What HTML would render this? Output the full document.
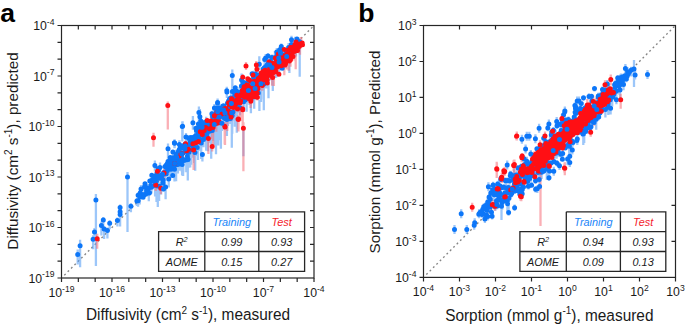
<!DOCTYPE html>
<html><head><meta charset="utf-8"><style>
html,body{margin:0;padding:0;background:#fff;width:685px;height:326px;overflow:hidden}
svg{display:block}
</style></head><body>
<svg width="685" height="326" viewBox="0 0 685 326" font-family='"Liberation Sans", sans-serif' fill="#1a1a1a"><rect width="685" height="326" fill="#fff"/><line x1="64.30" y1="275.20" x2="313.50" y2="26.00" stroke="#858585" stroke-width="1.35" stroke-dasharray="1.9 2.88"/><path d="M139.7 195.3V204.4M140.3 189.1V200.0M141.0 184.9V189.0M141.8 194.8V196.4M142.3 194.0V198.1M143.1 196.7V199.0M143.8 194.7V195.1M144.5 185.9V193.3M145.0 182.9V194.9M145.7 192.4V195.8M146.2 184.8V189.9M146.6 187.6V193.5M147.4 185.7V192.7M147.8 184.1V192.7M148.5 188.2V191.5M148.8 188.6V201.3M149.5 191.1V195.7M149.8 180.9V182.1M150.4 179.2V186.1M150.9 184.9V190.4M151.5 186.5V193.4M151.8 175.3V177.0M152.3 179.8V181.2M152.8 178.2V183.2M153.3 178.1V182.4M153.8 181.7V185.7M154.0 178.5V182.5M154.7 176.1V183.9M155.1 176.2V196.4M155.7 173.1V194.2M156.2 171.0V185.9M156.5 180.8V202.0M156.9 172.6V176.6M157.3 175.3V182.1M157.8 185.5V207.1M158.2 167.9V179.5M158.7 168.5V170.1M159.1 186.0V201.0M159.6 175.1V178.4M160.0 162.6V168.4M160.4 171.3V187.2M160.8 171.7V180.7M161.1 178.3V194.4M161.6 172.0V176.0M161.9 175.8V177.5M162.5 174.0V176.0M162.9 177.8V182.9M163.1 178.5V186.8M163.5 186.7V191.4M164.5 168.7V181.4M164.9 170.9V174.7M165.0 163.8V184.9M165.6 186.0V199.3M166.0 164.9V169.0M166.3 173.9V174.6M166.5 163.2V166.1M167.1 163.7V163.9M167.3 169.7V175.6M168.0 143.4V165.2M168.0 156.0V170.8M168.7 177.4V187.6M168.9 166.0V171.5M169.4 168.0V171.5M169.6 163.8V165.8M170.1 166.0V178.7M170.3 157.4V162.3M170.9 166.0V171.2M171.1 156.9V159.3M171.5 161.2V164.7M171.9 160.1V174.4M172.2 156.6V166.6M172.7 175.0V177.4M172.9 151.9V161.2M173.3 157.6V157.7M173.7 160.0V160.9M174.0 165.2V172.7M174.5 169.3V181.4M174.6 157.4V163.4M175.0 163.5V167.7M175.3 157.9V167.1M175.7 158.0V164.7M176.1 149.8V181.2M176.4 150.1V162.4M176.8 157.1V163.5M177.2 154.7V166.3M177.4 152.3V159.1M177.9 163.0V173.5M178.1 152.9V160.0M178.5 149.0V151.2M178.9 153.4V161.2M179.2 148.4V153.7M179.4 140.2V155.3M179.9 159.5V170.7M180.1 148.2V163.2M180.4 144.5V150.0M180.9 154.3V165.2M181.0 143.4V151.4M181.4 161.7V165.9M181.9 153.3V171.9M182.1 163.0V175.4M182.3 154.5V161.2M182.9 147.9V156.4M183.1 160.7V176.1M183.3 157.6V172.3M183.8 144.9V145.5M184.1 159.4V161.6M184.3 143.4V147.3M184.9 147.2V149.8M185.0 141.1V146.3M185.3 146.1V149.7M186.0 132.9V141.3M186.1 140.0V153.3M186.3 150.2V172.3M187.0 159.8V164.0M187.1 151.4V169.9M187.4 155.8V156.8M187.8 157.4V180.4M188.0 158.1V160.1M188.3 146.8V168.1M188.9 138.6V141.1M189.0 152.2V156.0M189.4 136.3V139.8M190.0 138.0V154.2M190.2 144.9V167.5M190.5 139.3V140.2M191.0 137.6V144.5M191.1 143.3V164.7M191.3 140.5V145.2M191.9 142.1V157.7M192.2 137.4V144.2M192.4 149.4V150.4M192.9 116.0V129.8M193.2 147.0V152.6M193.4 146.6V156.6M193.8 143.2V157.8M194.1 137.0V140.8M194.3 140.1V163.1M195.2 134.6V170.7M195.4 128.6V141.1M195.9 128.2V130.0M196.0 135.6V140.7M196.4 130.0V133.4M196.8 137.2V155.9M197.2 139.8V152.0M197.5 136.2V155.7M198.0 127.2V160.0M198.2 134.9V137.1M198.4 121.3V129.2M199.0 131.1V140.7M199.1 127.2V130.8M199.5 131.8V142.6M199.9 108.9V126.8M200.1 129.1V132.3M200.3 134.4V150.8M200.8 121.0V143.9M201.2 141.1V159.0M201.3 131.2V138.0M201.9 124.5V144.8M202.1 124.4V139.1M202.4 152.0V161.4M203.0 123.4V131.6M203.1 121.0V141.9M203.5 139.6V147.2M204.0 123.7V127.5M204.4 120.5V139.6M204.8 119.5V122.4M205.0 136.5V141.4M205.7 123.8V131.8M205.8 129.1V139.5M206.2 116.7V150.7M206.7 131.9V149.3M207.0 126.7V131.0M207.1 125.3V142.7M207.5 121.4V127.3M207.9 126.3V151.2M208.2 119.8V141.2M208.7 123.0V127.1M208.8 121.2V137.6M209.1 125.5V134.4M209.5 131.0V142.7M210.0 122.1V126.0M210.1 123.7V129.1M210.7 126.8V128.8M210.8 128.7V131.5M211.2 126.3V158.8M211.6 122.9V131.9M211.9 110.8V121.5M212.3 130.2V132.4M212.6 113.5V119.8M212.9 113.4V123.1M213.4 117.6V123.1M213.6 119.8V140.9M213.8 110.0V139.5M214.3 124.1V127.8M214.7 111.2V145.3M215.0 107.8V130.9M215.4 106.3V123.7M215.5 117.6V118.8M216.0 117.5V154.3M216.5 110.4V114.3M216.6 107.4V132.9M217.1 114.5V123.1M217.4 111.9V119.1M217.7 107.4V113.7M218.2 108.9V145.6M218.3 121.4V123.2M218.8 112.1V127.5M219.1 102.9V113.8M219.4 109.1V118.7M219.8 115.6V127.4M220.2 115.1V115.8M220.5 111.8V140.2M220.9 113.7V148.7M221.2 104.6V110.5M221.7 104.5V113.6M221.9 118.6V131.0M222.1 108.2V113.6M222.6 107.5V107.7M223.0 104.8V115.1M223.5 107.7V115.5M223.5 103.9V122.8M223.8 110.4V129.6M224.3 116.9V121.4M224.6 111.9V120.5M225.0 105.1V121.2M225.3 107.0V126.9M225.6 115.2V126.5M226.0 105.3V109.7M226.3 114.7V120.0M226.9 116.9V136.0M227.1 109.4V115.6M227.5 102.9V104.0M228.0 117.8V126.0M228.0 114.4V116.3M228.5 99.7V102.2M228.8 103.4V117.4M229.4 99.4V118.7M229.7 106.2V108.0M229.9 98.3V115.8M230.4 114.0V124.0M230.6 98.1V100.2M231.1 91.9V99.9M231.4 95.5V121.5M231.8 112.6V147.8M232.2 107.4V133.8M232.4 83.4V115.5M232.9 108.4V113.6M233.1 105.8V120.7M233.6 97.6V106.2M233.8 100.9V105.5M234.4 97.3V110.9M234.7 93.4V97.3M235.1 103.4V104.5M235.3 87.7V97.1M235.5 95.6V102.7M236.2 90.7V118.6M236.3 95.4V99.8M236.8 96.3V132.7M237.2 104.9V106.4M237.7 97.6V106.9M237.9 103.5V112.4M238.4 102.5V103.8M238.5 91.7V94.4M239.0 103.0V105.5M239.5 87.0V98.0M239.9 101.0V115.3M240.1 93.9V101.6M240.7 95.4V96.8M240.9 99.2V100.4M241.4 81.1V86.8M241.6 73.5V80.0M242.2 83.4V94.5M242.5 87.8V101.6M242.9 80.7V91.2M243.0 80.4V94.2M243.7 99.9V112.1M243.8 87.6V101.2M244.3 91.8V100.3M244.5 84.3V93.7M245.2 92.0V102.0M245.4 85.1V92.0M245.9 83.1V85.3M246.2 85.0V91.6M246.6 90.7V111.8M246.8 91.8V104.5M247.3 83.3V87.1M247.7 93.5V98.1M248.0 84.6V101.1M248.4 90.6V95.3M248.8 93.4V94.0M249.5 91.7V104.9M249.7 86.0V87.7M250.1 85.4V89.7M250.3 86.3V93.6M250.9 98.1V113.3M251.1 85.5V93.4M251.7 97.4V101.8M252.1 73.2V87.4M252.3 88.4V90.9M252.8 83.6V85.9M253.1 82.3V99.9M253.7 70.7V102.0M254.2 86.7V108.7M254.4 93.5V99.7M254.8 74.7V76.7M255.1 86.2V90.1M255.5 72.9V75.9M256.2 70.1V78.1M256.5 86.3V94.3M257.0 71.2V99.7M257.5 71.4V79.5M257.5 77.1V80.9M258.1 70.8V83.5M258.3 92.9V94.3M258.8 82.7V85.3M259.3 56.2V69.8M259.7 73.8V80.8M260.1 80.1V82.5M260.6 76.6V89.7M261.0 82.0V101.9M261.4 80.3V84.1M261.9 74.0V78.0M262.1 72.2V75.6M262.7 78.6V81.4M263.2 69.1V71.1M263.6 67.9V99.5M263.8 83.9V110.3M264.3 64.3V79.0M264.8 77.4V87.8M265.5 59.0V80.1M265.6 75.8V84.4M266.2 77.7V88.5M266.6 65.1V66.4M267.2 68.9V74.2M267.4 64.0V82.6M268.0 53.2V58.6M268.5 58.9V98.2M269.0 72.1V74.1M269.2 70.3V77.4M269.6 57.1V80.6M270.1 66.8V66.8M270.5 57.7V78.4M271.1 72.3V73.6M271.6 55.6V65.4M272.0 65.4V67.4M272.4 63.2V85.2M272.8 72.0V91.0M273.4 64.4V66.9M273.9 62.2V68.5M274.5 63.0V63.6M274.9 50.9V63.6M275.5 64.4V68.9M275.6 61.8V78.0M276.1 57.8V64.5M276.6 56.8V77.2M277.2 53.1V60.8M277.6 55.4V61.2M278.1 49.6V61.5M278.7 56.2V68.8M279.1 61.1V74.1M279.7 47.7V49.7M280.2 50.9V61.4M280.6 51.9V69.8M281.0 50.5V55.8M281.7 56.8V69.2M282.2 67.6V68.2M282.5 54.9V63.7M283.3 54.1V60.4M283.8 57.6V65.4M284.5 59.1V61.2M285.0 57.3V65.1M285.7 53.5V65.4M286.0 50.1V67.7M286.7 51.4V56.4M287.4 50.8V59.9M287.8 49.0V52.9M288.6 43.1V57.1M289.4 57.5V72.9M289.9 52.8V63.6M290.7 48.2V58.0M291.4 37.1V54.7M292.1 47.6V49.2M292.8 40.5V54.8M293.7 42.5V58.4M294.4 48.8V55.3M295.2 36.8V45.8M296.0 45.8V56.4M297.0 37.6V47.6M298.1 43.5V47.0M299.7 41.8V76.8M77.7 249.5V264.5M80.1 239.7V267.2M95.9 193.9V265.9M94.5 227.9V239.9M93.1 235.3V249.3M103.3 217.0V228.0M101.4 221.5V235.5M104.1 226.1V239.1M107.4 227.5V238.5M109.7 220.3V229.3M117.4 217.6V226.6M120.1 204.6V211.6M120.1 208.7V217.7M120.1 211.5V226.5M127.5 172.0V232.0M130.9 203.2V212.2M138.1 192.2V200.2M138.1 197.7V206.7M136.9 198.1V206.1M154.9 160.4V171.4M174.6 139.3V148.3M182.6 121.2V138.2M198.9 106.6V129.6M182.3 121.5V141.5M174.4 139.7V147.7M217.6 98.5V110.5M214.4 103.9V113.9M226.8 86.7V96.7M232.3 69.5V96.5M226.9 89.0V98.0M217.5 100.0V108.0M243.4 128.2V156.2M259.4 100.0V111.0M234.8 114.7V126.7M265.7 54.0V64.0M276.8 48.0V58.0M291.5 35.7V47.7M281.3 43.6V51.6M272.0 54.6V62.6M264.7 56.5V64.5" stroke="#5aa0f5" stroke-opacity="0.6" stroke-width="2.3" fill="none"/><path d="M192.9 141.4V143.7M195.9 139.4V142.7M198.5 140.1V141.8M200.3 126.3V136.8M202.3 133.6V138.9M207.2 120.5V128.9M208.4 136.7V154.1M210.9 114.8V121.1M212.1 124.8V139.1M213.1 127.5V146.4M214.4 115.8V118.1M215.3 114.1V120.9M216.3 123.6V131.8M217.0 112.2V113.7M218.2 123.1V124.5M219.0 118.2V124.1M219.8 115.9V123.7M220.5 110.2V115.6M221.4 114.2V114.4M223.0 109.6V113.2M224.7 108.8V109.4M225.1 112.5V117.8M225.8 108.4V114.0M226.6 108.2V110.6M227.3 111.1V131.1M228.0 111.1V114.6M229.1 102.5V104.6M229.9 113.4V115.2M230.3 110.6V118.4M231.1 117.0V121.3M231.6 97.3V99.9M232.0 100.6V107.0M232.6 100.4V100.5M233.8 105.0V107.8M234.4 100.0V115.3M234.8 103.4V113.1M235.3 99.4V104.2M236.0 103.5V110.0M236.4 98.8V100.3M236.8 93.6V95.2M237.5 108.4V110.8M238.4 93.4V103.7M238.8 91.5V97.1M239.4 98.7V101.4M239.6 101.1V119.4M240.2 102.8V116.3M240.6 100.9V120.9M241.2 94.3V107.2M241.5 93.7V102.8M242.0 94.6V102.9M243.4 89.9V91.4M243.7 82.2V89.2M244.5 93.9V98.6M245.0 83.4V87.5M245.4 89.8V89.9M246.2 84.2V85.1M246.5 92.8V101.2M247.3 94.5V97.8M247.8 76.9V82.3M248.2 83.4V90.6M248.7 95.8V98.4M249.2 89.5V100.1M249.8 85.8V89.2M250.2 94.7V96.3M250.6 93.0V107.9M251.0 81.4V82.1M251.3 87.5V93.0M251.7 88.4V98.8M253.2 84.3V87.3M253.5 92.6V96.4M254.0 90.3V93.0M254.6 81.3V83.3M255.2 82.4V83.4M255.3 85.0V88.9M255.6 84.3V89.4M256.2 86.0V95.1M256.3 79.7V93.2M256.9 67.6V69.2M257.1 93.2V98.5M257.4 97.3V100.5M257.9 80.2V80.5M258.0 88.7V90.9M258.4 78.2V79.6M259.0 79.0V82.9M259.6 83.6V84.1M260.0 81.7V84.6M260.0 77.0V77.6M260.6 77.2V79.6M261.0 77.9V78.6M261.2 73.1V76.0M261.6 69.8V73.8M261.9 79.7V80.5M262.3 85.0V90.8M262.9 71.7V72.0M263.4 77.6V81.3M264.3 79.3V82.5M264.9 74.6V81.9M265.1 70.2V72.6M265.4 70.6V79.4M265.7 78.6V82.2M266.1 69.3V74.7M266.4 74.4V74.9M267.2 79.5V80.1M267.3 82.1V84.8M267.7 72.4V84.6M267.8 68.5V71.2M268.6 74.7V75.5M269.0 58.9V61.9M269.1 69.5V76.6M269.5 65.9V69.4M270.0 66.3V71.4M270.2 67.2V74.2M270.3 69.2V73.9M270.9 62.5V65.6M271.1 74.9V79.9M271.5 67.8V68.7M272.1 68.4V85.8M272.3 63.3V72.5M273.0 72.7V75.2M273.5 61.8V64.6M273.7 66.5V72.1M273.9 65.9V86.1M274.2 65.4V67.1M274.4 63.6V78.0M274.8 64.8V68.4M275.1 62.8V69.8M275.4 56.5V60.7M275.7 69.7V75.0M276.2 65.1V70.0M276.7 60.4V63.8M277.2 59.2V63.7M277.6 60.5V70.9M277.8 66.8V71.4M278.7 60.5V62.8M278.9 71.9V74.3M279.4 55.9V60.8M279.7 52.6V59.6M279.9 58.5V61.6M280.4 51.1V69.8M280.8 51.3V56.2M281.1 50.5V57.3M281.3 65.8V68.2M282.0 54.4V58.9M282.5 52.5V57.7M282.8 54.0V58.2M283.1 56.7V61.0M283.3 56.0V58.8M284.2 49.1V49.6M284.3 63.8V75.2M284.5 61.6V66.7M284.9 60.9V65.0M285.4 64.2V65.2M285.6 59.4V63.6M286.0 58.7V65.3M286.1 53.2V58.6M286.9 57.3V58.1M287.0 54.1V69.4M287.5 53.5V60.5M287.8 53.7V59.8M288.2 55.5V58.9M288.4 49.1V55.9M288.7 59.5V70.7M289.0 56.5V58.6M289.4 57.1V63.3M289.5 56.7V64.6M290.0 49.3V50.5M290.5 59.8V66.7M290.6 46.8V61.7M291.0 49.9V52.2M291.6 46.4V48.6M291.8 46.4V54.7M292.1 53.9V54.3M292.7 51.7V55.3M292.8 46.3V49.2M293.0 55.6V58.4M293.6 49.6V60.4M294.2 47.4V56.6M294.6 46.8V46.8M295.0 47.5V47.8M295.1 43.9V44.6M295.7 49.3V69.3M296.0 41.8V42.0M296.0 44.6V47.9M296.6 42.3V50.2M297.5 50.4V52.2M297.6 45.6V45.7M298.1 47.4V49.7M298.9 39.4V53.2M299.5 45.4V47.9M299.6 45.0V51.4M300.0 44.1V54.8M300.7 37.3V44.3M301.2 37.1V44.1M301.7 42.6V43.2M302.5 42.6V44.8M97.2 233.8V248.8M153.5 132.8V146.8M157.5 167.3V177.3M164.1 169.1V179.1M155.8 182.1V191.1M160.8 185.2V194.2M174.6 160.6V168.6M179.2 152.7V160.7M182.0 150.8V157.8M185.6 140.7V147.7M188.4 146.2V153.2M167.8 101.4V129.4M193.6 142.0V170.0M212.2 143.6V151.6M224.7 122.2V144.2M238.0 115.3V129.3M243.4 122.2V171.2M242.7 105.8V126.8M238.5 116.1V129.1M225.0 124.0V145.0M250.8 98.2V105.2M242.7 106.0V114.0M238.4 115.5V131.5M250.9 97.5V105.5M256.3 60.9V68.9M246.0 62.1V70.1M242.8 74.2V81.2" stroke="#f56e78" stroke-opacity="0.55" stroke-width="2.3" fill="none"/><path d="M139.7 196.5h0M140.3 192.7h0M141.0 189.0h0M141.8 196.4h0M142.3 194.6h0M143.1 197.3h0M144.5 186.8h0M145.0 183.7h0M145.7 194.3h0M146.2 187.4h0M147.4 190.0h0M147.8 188.5h0M148.5 188.2h0M148.8 193.0h0M149.8 180.9h0M150.4 180.9h0M150.9 185.5h0M151.5 187.2h0M151.8 175.3h0M152.3 180.2h0M152.8 179.6h0M153.3 178.4h0M153.8 185.6h0M154.7 177.8h0M155.1 176.3h0M155.7 177.7h0M156.2 175.8h0M156.5 181.2h0M156.9 173.2h0M157.3 177.9h0M157.8 186.0h0M158.2 168.5h0M158.7 170.1h0M159.1 186.2h0M159.6 176.3h0M160.0 167.5h0M160.4 176.2h0M160.8 175.5h0M161.1 178.3h0M161.6 175.9h0M161.9 175.8h0M162.9 182.9h0M163.1 180.1h0M163.8 172.5h0M164.5 173.8h0M164.9 172.9h0M165.0 166.5h0M165.6 187.0h0M166.0 167.2h0M166.3 174.1h0M166.5 165.0h0M167.3 170.7h0M168.0 161.4h0M168.7 179.0h0M169.4 168.0h0M169.6 165.3h0M170.1 166.3h0M171.1 159.3h0M171.5 164.1h0M171.9 165.9h0M172.2 160.1h0M172.7 175.6h0M172.9 152.0h0M173.3 157.7h0M173.7 160.9h0M174.0 168.4h0M174.5 169.3h0M175.0 165.1h0M175.3 159.7h0M175.7 158.7h0M176.4 156.0h0M177.2 160.9h0M177.4 154.6h0M177.9 164.6h0M178.1 152.9h0M178.5 151.2h0M178.9 159.7h0M179.2 149.8h0M179.4 144.4h0M179.9 162.8h0M180.4 147.5h0M180.9 160.1h0M181.0 147.9h0M181.4 161.7h0M182.1 164.5h0M182.3 158.6h0M182.9 153.1h0M183.1 160.7h0M183.3 159.5h0M183.8 145.5h0M184.1 160.4h0M184.3 145.0h0M185.0 144.2h0M186.0 136.9h0M186.1 145.9h0M186.3 151.6h0M187.0 159.8h0M187.1 151.4h0M187.4 156.3h0M187.8 159.6h0M188.3 151.7h0M188.9 138.6h0M189.0 152.2h0M189.4 137.8h0M190.0 141.9h0M190.2 144.9h0M190.5 139.3h0M191.0 137.6h0M191.1 145.2h0M191.3 140.8h0M191.9 142.6h0M192.2 140.4h0M192.4 149.4h0M192.9 122.7h0M193.2 148.3h0M193.4 146.8h0M193.8 144.8h0M194.1 137.0h0M194.3 140.1h0M195.0 152.4h0M195.2 137.4h0M195.9 128.2h0M196.0 135.6h0M196.4 130.4h0M196.8 137.5h0M197.2 147.5h0M197.5 136.2h0M198.0 131.6h0M198.2 134.9h0M198.4 124.1h0M199.0 138.6h0M199.1 127.2h0M199.5 135.2h0M199.9 116.8h0M200.1 132.3h0M200.3 142.4h0M200.8 121.0h0M201.2 143.1h0M201.3 133.6h0M201.9 125.3h0M202.4 154.6h0M203.0 131.4h0M203.1 129.0h0M203.5 139.6h0M203.8 136.2h0M204.0 124.2h0M204.4 128.3h0M204.8 122.4h0M205.0 136.5h0M205.7 131.8h0M205.8 137.1h0M206.2 124.7h0M206.7 135.0h0M207.0 128.8h0M207.1 133.3h0M207.5 122.7h0M207.9 130.0h0M208.2 124.5h0M208.7 125.8h0M208.8 126.1h0M209.1 128.9h0M209.5 131.3h0M210.0 125.7h0M210.1 128.3h0M210.7 128.3h0M210.8 128.7h0M211.2 129.2h0M211.6 126.7h0M211.9 113.8h0M212.3 130.5h0M212.6 116.6h0M212.9 115.2h0M213.4 122.8h0M213.6 119.8h0M213.8 117.6h0M214.7 114.9h0M215.0 115.8h0M215.4 114.3h0M215.5 117.6h0M216.0 119.3h0M216.5 111.6h0M217.1 122.5h0M217.4 113.3h0M218.2 110.6h0M218.3 122.1h0M218.8 112.1h0M219.1 108.0h0M219.8 116.4h0M220.2 115.8h0M220.5 115.8h0M220.9 113.7h0M221.2 110.5h0M221.7 108.0h0M222.1 108.7h0M222.6 107.5h0M223.0 106.1h0M223.5 105.8h0M223.8 116.5h0M224.6 112.8h0M225.3 113.1h0M225.6 118.8h0M226.0 109.7h0M226.3 115.7h0M226.9 119.4h0M227.1 115.0h0M227.5 102.9h0M228.0 119.0h0M228.0 116.3h0M228.5 100.9h0M228.8 107.2h0M229.4 99.4h0M229.7 106.6h0M229.9 98.5h0M230.4 118.5h0M230.6 98.1h0M231.1 99.9h0M232.2 115.4h0M232.4 91.4h0M232.9 112.0h0M233.1 105.8h0M233.6 97.6h0M233.8 100.9h0M234.4 100.8h0M234.7 93.4h0M235.1 103.4h0M235.3 87.7h0M235.5 99.6h0M236.2 91.0h0M236.3 96.7h0M236.8 97.7h0M237.2 106.4h0M237.7 103.1h0M237.9 103.5h0M238.4 102.5h0M238.5 92.2h0M239.0 103.0h0M239.5 95.0h0M239.9 107.8h0M240.1 96.6h0M240.7 96.8h0M240.9 99.3h0M241.4 86.0h0M241.6 80.0h0M242.2 86.0h0M242.5 90.3h0M243.0 88.4h0M243.7 101.8h0M243.8 87.6h0M244.3 98.0h0M244.5 92.3h0M245.2 100.0h0M245.4 88.5h0M245.9 83.1h0M246.2 88.9h0M246.6 90.7h0M246.8 93.3h0M247.3 83.3h0M247.7 94.9h0M248.0 87.3h0M248.8 94.0h0M249.5 91.7h0M249.7 87.6h0M250.1 86.8h0M250.3 89.5h0M250.9 98.9h0M251.1 91.8h0M251.7 97.5h0M252.1 73.7h0M252.3 88.4h0M253.1 90.3h0M253.7 77.8h0M254.2 87.0h0M254.4 95.4h0M254.8 74.8h0M255.5 74.0h0M256.2 78.1h0M256.5 86.6h0M257.0 79.2h0M257.5 75.3h0M257.5 80.9h0M258.1 78.3h0M258.3 92.9h0M258.8 82.7h0M259.3 64.2h0M259.7 76.4h0M260.1 80.7h0M260.6 78.4h0M261.4 80.3h0M261.9 77.3h0M262.1 75.6h0M262.7 80.7h0M263.2 69.1h0M263.6 69.4h0M263.8 84.1h0M264.3 67.7h0M264.8 79.5h0M265.5 67.0h0M265.6 75.9h0M266.2 80.5h0M266.6 65.8h0M267.2 73.2h0M268.0 55.9h0M268.5 63.2h0M269.0 72.1h0M269.2 71.8h0M270.1 66.8h0M270.5 61.6h0M271.1 72.5h0M271.6 63.3h0M272.4 69.2h0M272.8 72.0h0M273.4 66.9h0M273.9 62.9h0M274.5 63.6h0M274.9 57.5h0M275.5 65.0h0M275.6 64.5h0M276.1 58.6h0M276.6 59.8h0M277.2 54.6h0M277.6 58.5h0M278.1 57.6h0M279.7 49.7h0M281.0 55.8h0M281.7 59.0h0M282.2 68.2h0M282.5 54.9h0M283.3 58.9h0M283.8 58.7h0M284.5 59.7h0M285.0 57.6h0M285.7 53.5h0M286.0 51.0h0M287.4 55.2h0M287.8 52.2h0M288.6 47.5h0M289.4 57.5h0M289.9 52.8h0M290.7 50.6h0M291.4 44.5h0M292.1 48.9h0M292.8 48.5h0M293.7 50.5h0M294.4 48.8h0M295.2 44.8h0M296.0 45.8h0M297.0 39.0h0M298.1 43.7h0M299.7 41.8h0M77.7 254.5h0M80.1 245.7h0M95.9 199.9h0M93.1 239.3h0M101.4 225.5h0M104.1 229.1h0M107.4 230.5h0M109.7 223.3h0M117.4 220.6h0M120.1 207.6h0M120.1 211.7h0M127.5 177.0h0M138.1 195.2h0M138.1 200.7h0M136.9 201.1h0M154.9 165.4h0M182.6 126.2h0M198.9 112.6h0M182.3 126.5h0M174.4 142.7h0M217.6 102.5h0M214.4 107.9h0M226.8 90.7h0M232.3 75.5h0M226.9 92.0h0M217.5 103.0h0M265.7 58.0h0M276.8 52.0h0M291.5 39.7h0M281.3 46.6h0M272.0 57.6h0M264.7 59.5h0" stroke="#0c76f8" stroke-width="5.0" stroke-linecap="round" fill="none"/><path d="M186.7 150.8h0M192.9 143.7h0M195.9 142.7h0M198.5 141.5h0M200.3 131.8h0M202.3 134.6h0M204.2 130.4h0M205.7 127.6h0M207.2 120.5h0M208.4 138.6h0M209.6 128.7h0M210.9 121.1h0M212.1 124.8h0M213.1 127.5h0M214.4 115.8h0M215.3 120.9h0M216.3 123.6h0M217.0 112.2h0M218.2 123.1h0M219.0 121.4h0M219.8 115.9h0M220.5 114.4h0M221.4 114.2h0M222.3 115.5h0M223.0 113.2h0M224.0 114.0h0M224.7 108.8h0M225.1 112.5h0M225.8 108.4h0M226.6 110.2h0M227.3 111.1h0M228.0 111.1h0M228.6 102.8h0M229.1 104.4h0M229.9 113.6h0M230.3 112.2h0M231.1 117.0h0M231.6 98.7h0M232.0 107.0h0M232.6 100.4h0M233.4 107.6h0M233.8 106.4h0M234.4 106.9h0M234.8 104.7h0M235.3 104.2h0M236.0 103.5h0M236.4 100.3h0M236.8 95.2h0M237.5 109.0h0M237.9 96.1h0M238.4 100.4h0M238.8 97.1h0M239.4 101.4h0M239.6 101.4h0M240.2 102.8h0M240.6 100.9h0M241.2 94.4h0M241.5 95.4h0M242.0 94.6h0M242.4 90.4h0M242.8 91.8h0M243.4 91.4h0M243.7 89.2h0M244.2 86.8h0M244.5 97.3h0M245.0 85.7h0M245.4 89.8h0M245.9 93.4h0M246.2 85.0h0M246.5 92.8h0M247.2 85.3h0M247.3 95.7h0M247.8 78.8h0M248.2 86.0h0M248.7 98.4h0M249.2 94.1h0M249.3 80.0h0M249.8 87.3h0M250.2 95.8h0M250.6 94.4h0M251.0 81.4h0M251.3 90.4h0M251.7 88.4h0M252.1 96.2h0M252.4 82.4h0M253.0 75.0h0M253.2 84.3h0M253.5 92.6h0M254.0 90.4h0M254.5 96.7h0M254.6 81.3h0M255.2 83.4h0M255.3 86.4h0M255.6 86.6h0M256.2 86.0h0M256.3 84.4h0M256.9 69.2h0M257.1 93.2h0M257.4 97.3h0M257.9 80.5h0M258.0 88.7h0M258.4 78.5h0M258.8 80.0h0M259.0 79.0h0M259.6 84.1h0M260.0 84.6h0M260.0 77.3h0M260.6 79.6h0M261.0 77.9h0M261.2 73.1h0M261.6 73.8h0M261.9 80.5h0M262.2 79.0h0M262.3 85.6h0M262.9 71.7h0M263.2 71.4h0M263.4 80.1h0M264.0 77.2h0M264.1 75.4h0M264.3 79.3h0M264.9 74.6h0M265.1 70.2h0M265.4 70.6h0M265.7 78.6h0M266.1 70.9h0M266.4 74.9h0M266.7 75.1h0M267.2 80.1h0M267.3 83.0h0M267.7 73.8h0M267.8 70.8h0M268.4 71.2h0M268.6 75.5h0M269.0 61.9h0M269.1 70.1h0M269.5 65.9h0M270.0 66.9h0M270.2 74.2h0M270.3 69.5h0M270.9 65.6h0M271.1 75.3h0M271.4 70.6h0M271.5 67.8h0M272.1 68.4h0M272.3 63.3h0M272.6 77.5h0M273.0 72.7h0M273.5 64.6h0M273.7 68.9h0M273.9 66.1h0M274.2 65.4h0M274.4 63.6h0M274.8 65.3h0M275.1 65.4h0M275.4 57.9h0M275.7 71.6h0M276.2 67.4h0M276.3 59.2h0M276.7 61.9h0M276.8 63.4h0M277.2 63.7h0M277.6 63.4h0M277.8 66.8h0M278.1 59.7h0M278.4 54.0h0M278.7 62.8h0M278.9 74.3h0M279.4 59.9h0M279.7 59.6h0M279.9 58.5h0M280.2 63.8h0M280.4 52.6h0M280.8 55.7h0M281.1 56.7h0M281.3 65.8h0M281.6 61.5h0M282.0 56.8h0M282.5 55.7h0M282.6 57.0h0M282.8 58.2h0M283.1 56.7h0M283.3 57.6h0M283.8 55.9h0M284.2 49.6h0M284.3 64.4h0M284.5 61.6h0M284.9 65.0h0M285.4 64.2h0M285.6 63.5h0M286.0 60.0h0M286.1 57.0h0M286.7 57.3h0M286.9 57.3h0M287.0 54.1h0M287.5 60.5h0M287.8 53.7h0M288.2 58.9h0M288.4 50.0h0M288.7 59.5h0M289.0 58.6h0M289.4 60.9h0M289.5 58.1h0M290.0 49.3h0M290.5 59.8h0M290.6 47.6h0M290.8 55.5h0M291.0 49.9h0M291.6 47.9h0M291.8 49.9h0M292.1 54.3h0M292.7 52.0h0M292.8 49.2h0M293.0 56.5h0M293.6 50.3h0M293.8 46.8h0M294.2 51.5h0M294.6 46.8h0M295.0 47.8h0M295.1 44.6h0M295.7 49.3h0M296.0 42.0h0M296.0 47.9h0M296.6 48.0h0M297.0 46.7h0M297.5 50.4h0M297.6 45.7h0M298.1 47.4h0M298.3 46.1h0M298.9 46.4h0M299.5 46.3h0M299.6 45.0h0M300.0 44.1h0M300.7 44.3h0M301.2 44.1h0M301.7 43.2h0M302.2 43.1h0M302.5 44.8h0M97.2 238.8h0M153.5 137.8h0M157.5 171.3h0M164.1 173.1h0M155.8 185.1h0M160.8 188.2h0M174.6 163.6h0M179.2 155.7h0M182.0 153.8h0M185.6 143.7h0M188.4 149.2h0M167.8 105.4h0M193.6 150.0h0M212.2 146.6h0M224.7 126.2h0M238.0 119.3h0M243.4 128.2h0M242.7 109.8h0M238.5 119.1h0M225.0 127.0h0M250.8 101.2h0M242.7 109.0h0M238.4 119.5h0M250.9 100.5h0M256.3 64.9h0M246.0 66.1h0M242.8 77.2h0" stroke="#ff0f14" stroke-width="5.0" stroke-linecap="round" fill="none"/><path d="M143.8 195.1h0M146.6 190.8h0M149.5 192.7h0M154.0 181.1h0M162.5 174.3h0M163.5 189.0h0M167.1 163.9h0M168.0 148.8h0M168.9 166.0h0M170.3 157.4h0M170.9 169.3h0M174.6 163.4h0M176.1 154.6h0M176.8 157.5h0M180.1 148.2h0M181.9 154.1h0M184.9 148.9h0M185.3 146.1h0M188.0 159.2h0M195.4 136.2h0M202.1 127.3h0M214.3 124.6h0M216.6 108.1h0M217.7 111.8h0M219.4 117.1h0M221.9 123.3h0M223.5 110.1h0M224.3 118.1h0M225.0 113.1h0M231.4 103.5h0M231.8 112.8h0M242.9 81.9h0M248.4 90.6h0M252.8 83.7h0M255.1 88.6h0M261.0 83.7h0M267.4 64.7h0M269.6 65.1h0M272.0 67.4h0M278.7 58.0h0M279.1 62.1h0M280.2 51.9h0M280.6 53.3h0M286.7 56.4h0M94.5 231.9h0M103.3 220.0h0M120.1 214.5h0M130.9 206.2h0M174.6 143.3h0" stroke="#0c76f8" stroke-width="5.0" stroke-linecap="round" fill="none"/><rect x="204.8" y="211.8" width="99.80000000000001" height="19.80000000000001" fill="#fff"/><rect x="158.6" y="231.60000000000002" width="146.00000000000003" height="39.69999999999999" fill="#fff"/><path d="M204.8 211.8H304.6V271.3H158.6V231.60000000000002H304.6M158.6 251.5H304.6M204.8 211.8V271.3M258.8 211.8V271.3" fill="none" stroke="#262626" stroke-width="1.3"/><text transform="translate(231.8 225.8) scale(1 1.04)" text-anchor="middle" font-size="10.9" font-style="italic" fill="#2085f8">Training</text><text transform="translate(281.7 225.8) scale(1 1.04)" text-anchor="middle" font-size="10.9" font-style="italic" fill="#f5222d">Test</text><text transform="translate(181.7 245.6) scale(1 1.04)" text-anchor="middle" font-size="10.9" font-style="italic">R<tspan font-size="7.3" dy="-3.3">2</tspan></text><text transform="translate(181.7 265.5) scale(1 1.04)" text-anchor="middle" font-size="10.9" font-style="italic">AOME</text><text transform="translate(231.8 245.6) scale(1 1.04)" text-anchor="middle" font-size="10.9" font-style="italic">0.99</text><text transform="translate(281.7 245.6) scale(1 1.04)" text-anchor="middle" font-size="10.9" font-style="italic">0.93</text><text transform="translate(231.8 265.5) scale(1 1.04)" text-anchor="middle" font-size="10.9" font-style="italic">0.15</text><text transform="translate(281.7 265.5) scale(1 1.04)" text-anchor="middle" font-size="10.9" font-style="italic">0.27</text><rect x="61.5" y="25.5" width="252.50" height="252.50" fill="none" stroke="#262626" stroke-width="1.2"/><path d="M61.50 278.0v4.0M61.5 278.00h-4.0M78.33 278.0v4.0M78.33 25.5v4.0M61.5 261.17h-4.0M314.0 261.17h-4.0M95.17 278.0v4.0M95.17 25.5v4.0M61.5 244.33h-4.0M314.0 244.33h-4.0M112.00 278.0v4.0M112.00 25.5v4.0M61.5 227.50h-4.0M314.0 227.50h-4.0M128.83 278.0v4.0M128.83 25.5v4.0M61.5 210.67h-4.0M314.0 210.67h-4.0M145.67 278.0v4.0M145.67 25.5v4.0M61.5 193.83h-4.0M314.0 193.83h-4.0M162.50 278.0v4.0M162.50 25.5v4.0M61.5 177.00h-4.0M314.0 177.00h-4.0M179.33 278.0v4.0M179.33 25.5v4.0M61.5 160.17h-4.0M314.0 160.17h-4.0M196.17 278.0v4.0M196.17 25.5v4.0M61.5 143.33h-4.0M314.0 143.33h-4.0M213.00 278.0v4.0M213.00 25.5v4.0M61.5 126.50h-4.0M314.0 126.50h-4.0M229.83 278.0v4.0M229.83 25.5v4.0M61.5 109.67h-4.0M314.0 109.67h-4.0M246.67 278.0v4.0M246.67 25.5v4.0M61.5 92.83h-4.0M314.0 92.83h-4.0M263.50 278.0v4.0M263.50 25.5v4.0M61.5 76.00h-4.0M314.0 76.00h-4.0M280.33 278.0v4.0M280.33 25.5v4.0M61.5 59.17h-4.0M314.0 59.17h-4.0M297.17 278.0v4.0M297.17 25.5v4.0M61.5 42.33h-4.0M314.0 42.33h-4.0M314.00 278.0v4.0M61.5 25.50h-4.0" stroke="#262626" stroke-width="1.2" fill="none"/><text transform="translate(61.50 296.80) scale(1 1.06)" text-anchor="middle" font-size="12.3">10<tspan font-size="8.6" dy="-5">-19</tspan></text><text transform="translate(54.50 282.50) scale(1 1.06)" text-anchor="end" font-size="12.3">10<tspan font-size="8.6" dy="-5">-19</tspan></text><text transform="translate(112.00 296.80) scale(1 1.06)" text-anchor="middle" font-size="12.3">10<tspan font-size="8.6" dy="-5">-16</tspan></text><text transform="translate(54.50 232.00) scale(1 1.06)" text-anchor="end" font-size="12.3">10<tspan font-size="8.6" dy="-5">-16</tspan></text><text transform="translate(162.50 296.80) scale(1 1.06)" text-anchor="middle" font-size="12.3">10<tspan font-size="8.6" dy="-5">-13</tspan></text><text transform="translate(54.50 181.50) scale(1 1.06)" text-anchor="end" font-size="12.3">10<tspan font-size="8.6" dy="-5">-13</tspan></text><text transform="translate(213.00 296.80) scale(1 1.06)" text-anchor="middle" font-size="12.3">10<tspan font-size="8.6" dy="-5">-10</tspan></text><text transform="translate(54.50 131.00) scale(1 1.06)" text-anchor="end" font-size="12.3">10<tspan font-size="8.6" dy="-5">-10</tspan></text><text transform="translate(263.50 296.80) scale(1 1.06)" text-anchor="middle" font-size="12.3">10<tspan font-size="8.6" dy="-5">-7</tspan></text><text transform="translate(54.50 80.50) scale(1 1.06)" text-anchor="end" font-size="12.3">10<tspan font-size="8.6" dy="-5">-7</tspan></text><text transform="translate(314.00 296.80) scale(1 1.06)" text-anchor="middle" font-size="12.3">10<tspan font-size="8.6" dy="-5">-4</tspan></text><text transform="translate(54.50 30.00) scale(1 1.06)" text-anchor="end" font-size="12.3">10<tspan font-size="8.6" dy="-5">-4</tspan></text><line x1="426.30" y1="274.60" x2="674.90" y2="26.00" stroke="#858585" stroke-width="1.35" stroke-dasharray="1.9 2.88"/><path d="M478.8 211.1V217.5M480.3 209.1V215.5M482.0 207.1V217.7M483.0 208.7V216.8M483.8 203.5V209.9M484.9 215.7V222.9M485.6 202.2V209.6M486.3 211.9V219.7M487.1 206.7V213.4M487.8 202.5V213.4M488.6 199.6V213.0M489.1 193.7V200.6M490.0 203.7V210.1M490.3 196.0V202.4M490.8 189.7V200.4M491.5 212.3V215.5M492.1 213.0V219.4M492.6 186.6V193.0M493.1 181.7V188.8M493.5 193.8V201.1M494.2 191.5V197.9M494.3 202.3V208.7M494.8 201.0V209.4M495.3 201.0V210.8M496.0 187.0V193.4M496.5 197.5V200.7M496.9 201.3V204.5M497.2 202.9V209.3M497.7 180.7V197.9M498.2 190.1V197.5M498.4 192.6V200.0M499.0 191.2V198.1M499.5 189.1V195.7M500.0 196.9V205.7M500.0 182.4V189.1M500.7 175.4V179.5M501.1 174.9V181.3M501.5 203.1V220.1M501.9 184.5V187.7M502.2 195.7V209.7M502.7 191.7V198.1M503.1 193.3V202.6M503.4 200.2V203.4M503.9 184.0V190.4M504.2 193.5V199.9M504.6 197.2V203.6M504.8 189.4V192.9M505.4 177.4V184.7M505.9 180.7V188.0M506.2 184.9V188.1M506.7 189.6V196.0M506.9 187.5V197.6M507.4 200.9V211.6M507.6 195.8V207.0M507.9 177.4V183.8M508.4 184.4V191.0M508.6 204.6V215.8M509.0 195.1V201.5M509.5 184.2V194.7M509.8 177.5V183.9M510.2 170.8V182.6M510.6 170.7V173.9M510.8 190.9V197.3M511.1 191.2V197.6M511.6 186.1V194.0M511.9 189.9V193.1M512.3 184.7V192.4M512.7 175.4V181.7M513.2 174.6V181.0M513.4 173.4V183.0M513.7 176.7V183.1M514.1 168.5V176.5M514.4 180.7V187.1M514.6 204.6V211.0M515.1 187.5V193.9M515.4 183.9V191.8M516.0 175.0V179.5M516.2 182.5V190.4M516.4 180.0V189.0M517.0 170.2V179.9M517.1 182.6V189.0M517.4 178.2V184.6M517.9 176.5V184.4M518.1 164.9V171.3M518.4 187.6V195.9M518.9 174.0V180.4M519.2 171.2V178.3M519.7 187.3V193.7M519.9 185.7V193.7M520.0 188.1V192.3M520.6 176.6V179.8M520.8 176.5V190.2M521.1 183.2V192.1M521.3 163.4V169.8M521.8 165.0V171.7M522.2 188.0V197.0M522.3 186.2V192.6M522.8 172.2V175.4M523.1 170.8V174.0M523.5 183.9V187.1M524.0 155.5V163.7M524.2 166.1V169.3M524.3 161.5V164.8M524.8 172.1V178.5M525.0 177.2V180.4M525.5 179.1V182.3M525.5 177.8V184.2M526.2 174.4V180.8M526.3 162.3V173.5M526.7 175.2V178.4M527.1 162.4V169.6M527.3 175.0V181.4M527.6 181.6V188.4M528.0 167.6V174.0M528.4 182.6V189.4M528.5 161.0V164.2M528.9 164.9V171.3M529.0 171.9V178.3M529.7 170.4V185.9M529.9 166.5V169.7M530.2 164.8V171.2M530.4 170.7V173.9M530.8 150.0V157.2M531.1 175.8V181.8M531.3 163.4V174.2M531.6 182.1V185.3M532.0 161.3V164.5M532.3 165.7V176.1M532.7 168.2V178.3M532.9 159.0V165.4M533.3 164.1V175.7M533.6 171.1V178.6M533.8 155.2V158.4M534.2 163.5V171.8M534.5 168.5V173.3M535.0 161.9V165.1M535.2 159.6V167.7M535.5 173.6V184.0M535.6 186.1V192.5M536.2 151.9V162.0M536.4 152.2V158.6M536.5 153.6V160.0M537.3 185.5V193.1M537.6 159.7V169.4M537.9 168.0V175.8M538.1 157.6V168.3M538.4 150.7V153.9M538.9 154.8V166.0M539.2 173.5V182.8M539.3 164.2V177.9M539.6 182.8V186.6M540.0 144.0V150.4M540.3 147.5V153.9M540.6 152.8V159.2M540.8 149.4V156.2M541.0 163.9V177.8M541.6 169.0V179.1M542.0 149.7V161.1M542.1 159.7V166.1M542.3 164.8V174.2M542.6 155.1V161.5M543.2 158.1V169.3M543.5 164.0V167.2M543.7 133.9V143.7M543.8 166.2V174.1M544.1 142.0V149.7M544.7 159.4V165.8M545.0 162.3V168.7M545.1 161.2V167.6M545.3 141.8V148.6M545.5 142.6V149.0M546.0 138.6V146.4M546.4 154.7V161.1M546.7 167.0V172.9M546.8 169.0V180.0M547.2 162.2V165.4M547.7 162.8V174.4M547.8 124.8V131.2M548.0 148.4V151.6M548.4 153.5V160.2M548.6 147.4V150.6M549.0 174.5V180.9M549.5 167.9V174.3M549.5 147.1V164.3M549.9 143.5V149.9M550.0 135.8V144.7M550.4 138.8V145.2M550.8 148.3V154.7M551.0 163.0V166.2M551.3 131.6V138.0M551.7 128.8V135.2M552.0 147.3V150.5M552.1 136.8V143.2M552.6 149.8V156.6M553.0 141.9V148.3M553.2 145.7V153.6M553.4 127.1V133.5M553.5 133.0V140.8M553.9 157.5V164.6M554.4 153.0V156.2M554.6 136.8V147.3M555.0 141.6V145.7M555.2 151.9V158.4M555.4 148.7V155.1M555.7 129.8V139.0M555.8 150.0V157.4M556.4 136.4V142.9M556.6 151.7V158.8M557.0 125.7V128.9M557.0 160.0V166.6M557.3 144.2V150.6M557.6 137.7V144.1M558.1 143.3V150.0M558.4 148.9V156.8M558.6 138.9V149.9M558.8 140.6V151.8M559.1 138.2V144.6M559.5 136.2V142.6M559.5 162.6V170.0M560.2 130.4V136.8M560.5 129.9V141.2M560.6 121.1V129.2M560.9 151.1V157.5M561.2 127.2V133.6M561.3 119.4V128.0M561.6 130.0V136.4M562.1 116.3V132.5M562.4 156.1V159.3M562.7 150.4V157.2M562.8 137.4V144.7M563.1 144.1V150.6M563.4 132.8V139.2M563.6 109.5V119.0M564.2 127.0V133.4M564.4 120.0V126.4M564.6 119.3V122.5M564.8 136.1V143.1M565.2 144.1V147.9M565.4 135.2V142.8M565.6 119.7V122.9M565.8 117.1V123.5M566.5 129.0V135.4M566.6 133.7V140.1M566.9 141.4V148.6M567.0 125.1V132.5M567.4 134.2V143.3M567.6 155.8V165.2M567.8 134.6V141.0M568.0 123.3V129.7M568.4 116.4V119.6M569.0 133.8V138.2M569.2 140.6V154.4M569.4 143.0V149.4M569.7 128.0V131.2M570.0 132.0V143.6M570.2 131.1V137.5M570.5 121.8V128.2M570.6 137.7V144.1M571.0 129.5V137.3M571.4 126.9V138.4M571.7 118.2V130.8M571.8 135.4V145.5M572.2 122.8V130.9M572.4 126.5V135.9M572.6 118.8V125.2M572.9 139.3V145.7M573.1 122.1V130.4M573.5 121.7V133.8M573.9 122.7V126.6M574.2 113.9V120.3M574.4 114.3V121.1M574.5 127.0V135.6M574.9 102.3V108.7M575.1 109.1V115.5M575.5 102.4V111.9M575.6 107.0V110.2M575.8 110.3V116.7M576.3 123.4V130.5M576.5 117.5V125.3M576.8 135.6V143.7M577.2 126.4V129.6M577.3 135.9V145.1M577.5 117.6V127.8M577.9 129.1V135.5M578.2 123.7V130.1M578.3 125.4V131.8M579.0 96.6V104.2M579.2 125.7V132.1M579.4 105.8V114.7M579.5 117.4V124.8M580.0 126.7V134.9M580.2 126.7V129.9M580.4 105.3V117.9M580.6 107.4V115.5M580.9 109.3V117.7M581.3 103.6V106.8M581.6 107.9V115.4M581.8 108.6V125.8M582.1 113.3V119.7M582.4 110.4V113.6M582.7 125.5V133.9M582.9 126.1V137.3M583.1 110.9V117.3M583.5 97.7V100.9M583.8 116.2V127.4M584.2 127.9V142.9M584.5 111.1V117.5M584.7 128.0V135.5M585.0 104.7V117.7M585.2 110.5V116.9M585.3 125.4V131.8M585.7 127.8V131.0M585.8 117.9V125.6M586.3 112.6V116.0M586.6 113.0V120.8M586.8 113.2V123.6M587.1 115.4V125.0M587.3 114.6V133.9M587.5 124.1V127.3M587.9 110.2V113.4M588.2 121.1V124.3M588.5 119.4V133.2M588.8 115.8V122.2M589.0 93.2V99.6M589.4 117.8V124.2M589.7 103.2V112.3M589.9 110.1V116.5M590.2 122.9V130.7M590.3 118.1V125.3M590.6 115.6V122.0M591.0 123.6V130.0M591.4 115.3V123.4M591.9 97.8V101.0M592.1 107.0V116.2M592.3 118.3V124.7M592.6 114.7V122.3M592.8 114.2V120.6M593.3 111.7V119.9M593.7 117.4V120.6M594.0 119.3V122.5M594.2 102.7V105.9M594.5 114.0V120.6M594.5 88.4V91.6M595.2 102.8V109.2M595.4 112.4V122.0M595.7 102.9V111.5M595.9 103.1V106.3M596.2 116.0V129.8M596.6 99.8V103.0M596.9 114.1V120.5M597.0 107.7V114.1M597.4 107.7V114.6M597.6 100.6V107.0M598.1 93.9V100.3M598.3 92.8V99.2M598.7 113.4V120.3M599.0 98.9V105.3M599.1 105.6V108.8M599.6 92.4V100.4M599.9 109.3V118.3M600.2 106.9V112.0M600.4 93.3V104.5M600.9 106.8V114.5M601.1 92.1V98.5M601.4 104.3V110.7M601.6 91.8V95.0M602.1 109.6V112.8M602.5 86.4V92.8M602.7 102.5V105.7M603.2 88.5V94.9M603.5 93.2V99.6M604.1 90.4V93.6M604.5 100.0V103.2M604.7 95.8V101.8M605.2 98.5V101.7M605.3 87.1V93.5M605.6 97.8V101.0M606.1 96.0V105.7M606.4 88.5V94.9M606.6 92.2V95.4M607.0 86.6V93.3M607.3 80.0V87.3M607.7 91.1V97.5M608.1 104.1V110.5M608.3 103.8V115.1M608.9 84.6V94.5M609.2 87.9V102.4M609.6 95.3V101.7M610.0 88.2V95.4M610.3 96.5V102.9M610.6 105.1V114.4M611.1 89.4V96.4M611.3 92.9V99.3M612.0 91.9V99.2M612.2 88.0V106.5M612.6 88.5V99.8M612.9 93.6V100.0M613.5 91.6V98.0M613.9 90.9V97.3M614.0 89.0V95.4M614.6 81.5V87.9M615.0 81.3V94.8M615.5 80.2V87.4M615.9 80.8V90.5M616.3 88.0V99.7M616.7 82.9V89.3M617.1 81.3V87.7M617.7 74.9V81.3M618.0 77.9V84.8M618.7 79.9V86.3M619.0 79.9V86.3M619.4 78.1V94.7M619.9 75.3V82.9M620.3 74.6V86.2M621.0 73.4V80.7M621.7 74.5V80.9M622.1 73.7V80.8M622.6 73.8V83.9M623.5 81.2V90.3M624.1 75.8V84.1M625.0 72.6V79.0M625.5 73.8V80.2M626.4 75.8V82.2M627.2 68.0V79.2M628.4 70.6V77.0M629.7 71.6V74.8M631.3 66.8V76.4M454.5 224.9V233.9M461.2 209.2V218.2M466.8 224.9V233.9M474.2 220.7V229.7M474.7 218.3V227.3M479.1 209.2V218.2M482.8 204.8V213.8M487.7 213.6V220.6M487.7 197.4V206.4M488.4 182.2V191.2M494.3 183.9V192.9M521.9 134.8V143.8M526.8 131.8V140.8M529.3 131.8V140.8M535.4 134.3V143.3M539.1 123.7V132.7M548.9 119.5V128.5M556.7 117.1V126.1M564.8 107.3V116.3M525.6 144.5V153.5M526.8 156.8V165.8M553.8 166.7V175.7M507.2 160.5V169.5M647.5 70.1V79.1M634.0 60.0V87.0M635.1 70.5V79.5M625.4 64.1V73.1M627.6 67.3V76.3M616.4 95.3V104.3M620.0 86.0V98.0M577.2 96.5V105.5M564.9 106.4V115.4M596.8 106.6V117.6M605.4 106.6V117.6M572.3 145.6V154.6M569.8 151.8V160.8M569.8 157.9V166.9M583.3 134.0V145.0" stroke="#5aa0f5" stroke-opacity="0.6" stroke-width="2.3" fill="none"/><path d="M511.0 189.1V189.7M515.1 179.2V180.0M516.5 179.7V180.8M517.8 182.0V184.9M519.1 180.6V184.2M520.4 171.9V172.1M521.5 168.9V177.6M522.4 173.6V174.4M523.3 165.7V169.3M524.2 182.2V182.7M524.9 170.7V177.7M525.6 171.7V172.6M526.4 165.3V168.9M527.3 172.8V172.8M528.2 168.7V170.3M529.1 169.6V176.1M530.0 169.5V171.2M530.6 168.4V173.8M531.5 166.3V176.3M532.3 168.1V169.8M533.1 168.2V170.5M533.5 164.2V165.5M533.9 151.4V157.4M534.4 162.2V163.7M534.7 159.2V161.1M534.9 176.1V176.8M535.5 151.6V157.3M535.6 154.5V160.1M536.0 148.1V154.1M537.5 165.7V165.8M537.6 159.4V160.4M538.2 162.3V168.8M539.0 154.2V157.4M539.7 164.3V166.1M540.0 151.2V151.3M541.1 148.9V152.0M541.3 156.7V159.0M541.7 152.4V153.5M542.2 158.4V164.8M543.0 156.7V157.5M543.9 144.7V148.4M544.1 149.3V152.9M544.9 160.2V162.6M545.2 149.6V153.1M545.3 159.6V171.3M545.6 138.5V147.2M545.9 143.5V152.3M546.2 149.4V151.7M546.5 151.8V154.3M546.7 156.2V158.1M546.9 147.8V149.9M547.2 148.5V158.1M547.7 148.2V151.0M547.9 158.1V160.5M548.2 153.1V157.9M548.4 152.2V160.6M548.5 152.5V153.6M549.1 150.3V156.1M549.4 150.0V160.0M550.3 148.3V148.4M550.7 144.8V145.9M550.8 141.7V145.2M551.2 144.5V147.8M551.5 149.8V153.0M551.5 140.7V142.2M552.2 141.9V146.7M552.4 147.3V149.9M552.6 130.7V131.2M553.0 153.1V157.5M553.9 145.7V147.7M554.1 144.0V146.4M554.3 144.2V145.4M554.6 141.8V143.2M555.5 143.1V148.2M556.2 139.7V140.2M556.4 136.0V140.8M556.7 141.5V143.8M556.9 138.1V138.7M557.9 144.7V145.9M558.0 144.5V150.1M558.0 147.0V150.4M558.6 136.4V138.3M558.8 134.3V143.7M559.7 134.2V134.7M559.6 143.9V144.4M559.8 138.5V140.2M560.1 145.5V149.5M561.2 141.2V141.2M561.3 141.3V145.6M561.7 146.1V146.3M562.0 142.1V144.1M562.0 134.4V136.4M562.7 145.2V150.6M563.1 144.5V148.1M563.4 145.7V146.6M563.7 134.7V141.3M564.4 140.5V140.6M564.9 128.1V131.3M565.1 137.2V140.7M565.6 139.2V140.6M566.3 131.5V132.8M566.6 137.3V137.9M566.8 126.8V127.4M567.2 126.7V126.8M567.3 137.8V137.8M567.5 137.6V143.7M568.2 132.5V144.4M568.4 134.1V135.3M568.6 136.7V140.0M568.8 135.4V137.7M569.3 136.4V138.0M569.5 122.2V122.5M569.7 137.3V139.1M570.0 134.3V134.4M570.1 140.9V141.8M570.4 134.1V135.3M570.5 123.7V124.8M570.5 133.1V134.7M571.0 133.8V134.7M571.3 121.9V122.0M571.4 132.3V132.3M571.7 130.5V130.7M572.1 130.2V135.1M572.3 125.4V127.0M572.3 130.5V138.2M572.6 130.6V133.3M573.5 121.7V123.8M573.5 131.2V131.2M574.3 123.9V124.7M574.7 124.0V124.1M575.9 125.2V127.5M576.1 124.1V126.5M576.2 119.5V120.7M576.6 124.3V126.2M577.0 129.5V130.7M577.3 131.9V132.7M577.6 122.8V123.5M577.5 122.6V123.0M578.7 119.6V120.1M579.0 123.6V131.8M579.4 121.2V121.7M579.3 119.0V119.0M579.7 122.5V125.0M580.5 123.0V123.1M581.4 116.1V122.1M581.6 117.5V119.0M582.1 117.8V119.1M582.4 121.1V121.2M583.0 118.2V119.9M583.7 116.9V119.5M584.0 117.4V117.4M584.1 113.9V119.7M584.3 111.6V112.1M584.3 113.2V116.5M584.7 114.7V116.1M584.8 116.5V118.8M585.5 124.0V128.1M585.7 109.2V110.2M585.9 111.7V115.9M586.2 116.1V118.3M586.4 107.2V119.2M586.6 112.5V116.3M586.8 119.6V123.7M587.1 108.0V111.8M587.3 98.9V104.9M587.7 113.3V115.7M588.2 113.5V117.6M588.3 119.6V121.2M588.5 108.2V110.1M588.9 104.9V111.7M589.1 110.5V116.1M589.4 113.9V116.0M589.6 113.1V117.2M589.9 101.8V110.3M590.1 116.4V118.7M590.4 105.2V107.8M590.6 110.5V111.3M590.8 116.4V117.8M591.2 113.8V119.0M591.9 115.9V116.5M592.4 110.3V112.9M592.5 111.4V111.6M593.3 95.5V101.5M594.1 115.8V125.8M594.5 109.5V111.0M594.5 108.9V111.6M594.8 102.3V105.0M595.5 107.0V108.7M595.9 110.5V111.9M596.1 98.0V103.6M596.7 102.8V107.8M597.0 112.0V112.7M597.0 101.0V104.2M598.1 109.6V119.0M598.9 100.6V104.3M599.3 101.0V105.1M602.1 97.1V99.4M603.0 93.8V94.4M603.6 100.3V103.7M604.1 99.0V99.1M604.5 104.5V106.5M607.0 93.8V95.9M608.7 98.2V100.0M611.7 91.4V93.1M472.2 202.8V211.8M492.6 199.9V208.9M495.0 201.8V210.8M497.5 185.4V192.4M501.2 175.6V182.6M504.1 168.0V176.0M504.8 192.5V201.5M496.7 163.1V178.1M503.8 167.7V174.7M513.6 160.2V171.2M522.2 153.0V160.0M498.3 184.5V193.5M505.3 192.2V201.2M521.3 192.2V201.2M540.5 171.0V226.0M516.5 133.3V140.3M561.9 113.9V122.9M521.9 153.2V162.2M496.9 163.2V176.2M514.0 159.8V172.8M548.9 161.3V170.3M564.8 162.2V175.2M504.7 166.7V175.7M501.8 172.8V181.8M610.8 74.4V85.4M605.0 80.2V89.2M608.3 85.6V94.6M620.7 93.8V108.8M590.7 127.7V136.7M564.4 163.5V172.5M496.7 161.8V176.8M504.5 168.7V175.7M502.0 176.0V183.0M514.4 159.4V173.4M516.8 173.6V180.6M515.6 179.8V186.8M524.0 178.5V185.5M521.7 153.0V162.0M530.3 167.5V174.5M510.7 187.0V194.0M497.2 186.0V193.0M520.5 191.8V200.8M492.3 200.3V209.3M516.8 131.6V140.6M540.1 140.2V149.2M545.0 131.6V140.6M549.4 163.3V170.3" stroke="#f56e78" stroke-opacity="0.55" stroke-width="2.3" fill="none"/><path d="M478.8 214.3h0M480.3 212.3h0M482.0 214.5h0M483.0 213.6h0M483.8 206.7h0M484.9 218.9h0M486.3 215.1h0M487.1 210.2h0M487.8 206.1h0M488.6 202.8h0M489.1 196.9h0M490.0 206.9h0M490.3 199.2h0M490.8 192.9h0M491.5 212.3h0M492.6 189.8h0M493.1 184.9h0M493.5 193.8h0M494.2 194.7h0M494.3 205.5h0M494.8 206.2h0M495.3 204.2h0M496.0 190.2h0M496.5 200.7h0M497.2 206.1h0M497.7 183.9h0M498.2 194.3h0M498.4 195.8h0M499.0 198.1h0M499.5 192.3h0M500.0 200.1h0M500.0 185.9h0M500.7 179.5h0M501.1 178.1h0M501.5 206.3h0M501.9 187.7h0M502.2 202.5h0M502.7 194.9h0M503.1 199.4h0M503.4 200.2h0M503.9 187.2h0M504.2 196.7h0M504.6 200.4h0M504.8 192.9h0M505.4 180.6h0M506.2 188.1h0M506.7 192.8h0M506.9 193.1h0M507.4 200.9h0M507.6 203.8h0M507.9 180.6h0M508.4 187.6h0M508.6 212.6h0M509.0 198.3h0M509.5 190.5h0M510.2 175.7h0M510.6 173.9h0M511.1 194.4h0M511.6 189.3h0M511.9 193.1h0M512.7 175.4h0M513.2 177.8h0M513.4 176.6h0M513.7 179.9h0M514.1 176.5h0M514.4 183.9h0M514.6 207.8h0M515.1 190.7h0M515.4 187.4h0M516.0 175.0h0M516.2 187.0h0M516.4 183.2h0M517.0 175.8h0M517.1 185.8h0M517.4 181.4h0M517.9 179.7h0M518.1 168.1h0M518.4 190.8h0M518.9 177.2h0M519.2 174.4h0M519.7 190.5h0M519.9 193.7h0M520.0 192.3h0M520.6 176.6h0M520.8 184.1h0M521.1 188.9h0M521.3 166.6h0M521.8 168.5h0M522.2 193.8h0M522.3 189.4h0M522.8 175.4h0M523.1 174.0h0M523.5 187.1h0M524.0 158.8h0M524.2 169.3h0M524.3 164.8h0M524.8 175.3h0M525.0 177.2h0M525.5 179.1h0M525.5 181.0h0M526.2 177.6h0M526.3 170.3h0M526.7 175.2h0M527.3 178.2h0M527.6 181.6h0M528.0 170.8h0M528.4 186.2h0M528.5 164.2h0M528.9 168.1h0M529.0 175.1h0M529.7 178.4h0M529.9 169.7h0M530.2 168.0h0M530.4 170.7h0M530.8 154.0h0M531.1 175.8h0M531.3 171.0h0M531.6 185.3h0M532.0 161.3h0M532.3 171.4h0M532.7 175.1h0M532.9 162.2h0M533.3 164.1h0M533.6 175.4h0M533.8 155.2h0M534.2 166.7h0M534.5 168.5h0M535.0 165.1h0M535.2 162.8h0M535.5 180.8h0M535.6 189.3h0M536.2 155.9h0M536.4 155.4h0M536.5 156.8h0M536.9 148.7h0M537.3 188.7h0M537.6 162.9h0M537.9 172.6h0M538.1 160.8h0M538.4 153.9h0M538.9 162.8h0M539.2 179.6h0M539.3 170.9h0M539.6 186.6h0M540.0 147.2h0M540.3 150.7h0M540.6 156.0h0M540.8 152.6h0M541.0 167.1h0M541.6 172.2h0M542.0 152.9h0M542.1 162.9h0M542.6 158.3h0M543.2 166.1h0M543.5 164.0h0M543.7 138.3h0M543.8 170.9h0M544.1 145.2h0M544.7 162.6h0M545.0 165.5h0M545.1 164.4h0M545.3 145.4h0M545.5 145.8h0M546.0 141.8h0M546.4 157.9h0M546.7 167.0h0M546.8 169.0h0M547.2 162.2h0M547.7 168.5h0M547.8 128.0h0M548.0 151.6h0M548.4 156.7h0M548.6 147.4h0M549.0 177.7h0M549.5 171.1h0M549.5 150.3h0M549.9 146.7h0M550.0 141.5h0M550.4 142.0h0M550.8 151.5h0M551.0 163.0h0M551.3 134.8h0M551.7 132.0h0M552.0 147.3h0M552.1 140.0h0M552.6 153.0h0M553.0 145.1h0M553.4 130.3h0M553.5 137.6h0M553.9 161.4h0M554.4 153.0h0M554.6 144.1h0M555.0 141.6h0M555.2 151.9h0M555.4 151.9h0M555.7 135.8h0M555.8 153.2h0M556.4 139.7h0M556.6 151.7h0M557.0 125.7h0M557.0 163.2h0M557.3 147.4h0M557.6 140.9h0M558.1 143.3h0M558.4 152.6h0M558.6 143.9h0M558.8 148.6h0M559.1 141.4h0M559.5 165.8h0M560.2 133.6h0M560.5 133.1h0M560.6 124.3h0M560.9 154.3h0M561.2 130.4h0M561.3 124.8h0M561.6 133.2h0M562.1 119.5h0M562.4 159.3h0M562.7 153.6h0M562.8 140.6h0M563.1 147.3h0M563.4 136.0h0M563.6 114.8h0M564.2 130.2h0M564.4 123.2h0M564.6 122.5h0M564.8 139.9h0M565.2 147.9h0M565.4 138.4h0M565.6 122.9h0M565.8 120.3h0M566.5 132.2h0M566.6 136.9h0M566.9 145.4h0M567.4 137.4h0M567.6 159.0h0M567.8 137.8h0M568.0 126.5h0M568.4 119.6h0M569.0 138.2h0M569.2 143.8h0M569.4 146.2h0M569.7 128.0h0M570.0 135.8h0M570.2 134.3h0M570.5 125.0h0M570.6 140.9h0M571.0 134.1h0M571.4 134.9h0M571.7 121.4h0M571.8 141.1h0M572.2 127.7h0M572.4 129.7h0M572.6 122.0h0M572.9 142.5h0M573.1 125.9h0M573.5 124.9h0M573.9 126.6h0M574.2 117.1h0M574.4 117.9h0M574.5 130.2h0M574.9 105.5h0M575.1 112.3h0M575.5 108.7h0M575.8 113.5h0M576.3 123.4h0M576.5 120.7h0M576.8 140.5h0M577.2 129.6h0M577.3 139.1h0M577.5 120.9h0M577.9 132.3h0M578.2 126.9h0M578.3 128.6h0M579.0 101.0h0M579.2 128.9h0M579.4 111.5h0M579.5 121.6h0M580.0 131.7h0M580.2 126.7h0M580.4 108.5h0M580.6 110.6h0M580.9 112.5h0M581.3 103.6h0M581.6 111.1h0M581.8 111.8h0M582.1 116.5h0M582.4 113.6h0M582.7 128.7h0M582.9 134.1h0M583.1 114.1h0M583.5 97.7h0M583.8 124.2h0M584.2 131.1h0M584.5 114.3h0M585.0 107.9h0M585.2 113.7h0M585.3 128.6h0M585.7 131.0h0M585.8 117.9h0M586.3 112.6h0M586.6 117.3h0M586.8 116.4h0M587.1 118.6h0M587.3 120.4h0M587.5 124.1h0M587.9 113.4h0M588.2 121.1h0M588.5 127.4h0M588.8 119.0h0M589.0 96.4h0M589.4 121.0h0M589.7 106.4h0M589.9 113.3h0M590.2 127.5h0M590.3 118.1h0M590.6 118.8h0M591.0 126.8h0M591.4 118.5h0M591.5 96.2h0M591.9 101.0h0M592.1 110.2h0M592.3 121.5h0M592.6 117.9h0M592.8 117.4h0M593.3 116.7h0M593.7 117.4h0M594.0 122.5h0M594.5 114.0h0M594.5 88.4h0M595.2 106.0h0M595.4 112.4h0M595.7 108.3h0M595.9 106.3h0M596.2 119.2h0M596.6 103.0h0M596.9 117.3h0M597.0 110.9h0M597.4 110.9h0M597.6 103.8h0M598.1 97.1h0M598.3 96.0h0M598.7 117.1h0M599.0 102.1h0M599.1 105.6h0M599.6 97.2h0M599.9 112.9h0M600.2 106.9h0M600.4 101.3h0M600.9 110.0h0M601.1 95.3h0M601.4 107.5h0M601.6 95.0h0M602.1 109.6h0M602.5 89.6h0M602.7 102.5h0M603.2 91.7h0M603.5 96.4h0M603.6 92.3h0M604.1 90.4h0M604.5 103.2h0M604.7 95.8h0M605.2 98.5h0M605.3 90.3h0M605.6 97.8h0M606.1 99.2h0M606.4 91.7h0M606.6 92.2h0M607.0 90.1h0M607.3 84.1h0M607.7 94.3h0M608.1 107.3h0M608.3 103.8h0M608.9 91.3h0M609.2 91.1h0M609.6 98.5h0M610.0 92.2h0M610.3 99.7h0M610.6 108.3h0M611.1 92.6h0M611.3 96.1h0M612.0 96.0h0M612.2 95.9h0M612.6 91.7h0M612.9 96.8h0M613.5 94.8h0M613.9 94.1h0M614.0 92.2h0M614.6 84.7h0M615.0 87.3h0M615.5 83.4h0M616.3 91.2h0M616.7 86.1h0M617.1 84.5h0M617.7 78.1h0M618.0 81.6h0M618.7 83.1h0M619.0 83.1h0M619.4 85.4h0M619.9 79.7h0M620.3 81.2h0M621.0 77.5h0M621.7 77.7h0M622.1 76.9h0M622.6 80.7h0M623.5 84.4h0M624.1 79.0h0M625.0 75.8h0M625.5 77.0h0M626.4 79.0h0M627.2 76.0h0M628.4 73.8h0M629.7 71.6h0M631.3 70.0h0M454.5 229.4h0M461.2 213.7h0M466.8 229.4h0M474.2 225.2h0M474.7 222.8h0M479.1 213.7h0M482.8 209.3h0M487.7 201.9h0M488.4 186.7h0M494.3 188.4h0M521.9 139.3h0M526.8 136.3h0M535.4 138.8h0M539.1 128.2h0M548.9 124.0h0M556.7 121.6h0M564.8 111.8h0M525.6 149.0h0M526.8 161.3h0M553.8 171.2h0M507.2 165.0h0M647.5 74.6h0M634.0 69.0h0M635.1 75.0h0M625.4 68.6h0M627.6 71.8h0M616.4 99.8h0M620.0 90.0h0M577.2 101.0h0M564.9 110.9h0M605.4 109.6h0M572.3 150.1h0M569.8 156.3h0M569.8 162.4h0M583.3 134.0h0" stroke="#0c76f8" stroke-width="5.0" stroke-linecap="round" fill="none"/><path d="M511.0 189.7h0M513.1 188.1h0M515.1 179.2h0M516.5 180.8h0M517.8 182.0h0M519.1 180.6h0M520.4 171.9h0M521.5 168.9h0M522.4 174.4h0M523.3 165.7h0M524.2 182.2h0M524.9 170.7h0M525.6 171.7h0M526.4 168.9h0M526.8 169.4h0M527.3 172.8h0M528.2 168.7h0M528.6 172.3h0M529.1 171.1h0M529.6 170.1h0M530.0 171.2h0M530.6 168.4h0M531.1 168.5h0M531.5 166.3h0M531.9 172.6h0M532.3 169.8h0M532.5 159.0h0M533.1 168.7h0M533.5 164.2h0M533.9 157.4h0M534.4 163.7h0M534.7 161.1h0M534.9 176.8h0M535.5 157.3h0M535.6 154.5h0M536.0 154.1h0M536.3 161.0h0M536.7 169.1h0M537.2 158.5h0M537.5 165.8h0M537.6 159.4h0M538.2 162.3h0M538.4 152.3h0M538.6 170.9h0M539.0 154.2h0M539.4 166.5h0M539.7 164.3h0M540.0 164.8h0M540.0 151.2h0M540.7 152.1h0M540.8 163.1h0M541.1 149.8h0M541.3 157.3h0M541.7 152.9h0M541.9 158.8h0M542.2 158.4h0M542.7 150.0h0M543.0 157.5h0M543.0 156.6h0M543.4 154.3h0M543.6 165.6h0M543.9 148.4h0M544.1 152.9h0M544.5 149.6h0M544.6 156.4h0M544.9 161.2h0M545.2 149.6h0M545.3 161.3h0M545.6 144.5h0M545.9 143.5h0M546.2 150.3h0M546.5 153.8h0M546.7 156.8h0M546.9 149.9h0M547.2 152.2h0M547.4 145.2h0M547.7 148.2h0M547.9 158.1h0M548.2 153.1h0M548.4 154.2h0M548.5 152.5h0M549.0 152.0h0M549.1 150.3h0M549.4 150.0h0M549.5 144.0h0M550.0 149.6h0M550.0 155.3h0M550.3 156.7h0M550.3 148.4h0M550.7 145.9h0M550.8 141.7h0M551.2 147.8h0M551.5 149.8h0M551.5 142.2h0M551.9 157.6h0M552.2 141.9h0M552.4 149.9h0M552.6 151.1h0M552.6 131.2h0M553.0 153.1h0M553.0 138.9h0M553.4 153.9h0M553.7 150.1h0M553.9 145.7h0M554.1 144.0h0M554.3 144.2h0M554.6 143.2h0M554.7 151.4h0M554.9 136.3h0M555.2 146.9h0M555.4 140.1h0M555.5 148.2h0M555.9 152.0h0M556.2 139.7h0M556.4 147.9h0M556.4 140.8h0M556.7 141.5h0M556.9 138.1h0M557.0 145.8h0M557.4 145.4h0M557.5 141.3h0M557.9 144.7h0M558.0 144.5h0M558.0 148.2h0M558.4 134.2h0M558.6 136.6h0M558.8 134.3h0M559.0 138.5h0M559.3 143.0h0M559.7 134.7h0M559.6 143.9h0M559.8 138.5h0M560.1 145.5h0M560.3 142.8h0M560.6 145.3h0M560.9 143.7h0M561.2 146.6h0M561.2 141.2h0M561.3 145.6h0M561.7 146.3h0M562.0 144.1h0M562.0 135.4h0M562.5 148.1h0M562.3 133.9h0M562.7 145.3h0M562.9 137.1h0M563.1 144.5h0M563.4 145.7h0M563.7 134.7h0M563.5 133.0h0M563.9 137.2h0M564.2 125.8h0M564.4 140.5h0M564.6 136.1h0M565.0 130.2h0M564.9 130.1h0M565.1 138.9h0M565.3 133.7h0M565.6 139.2h0M565.8 130.6h0M566.1 128.4h0M566.2 123.6h0M566.3 132.8h0M566.6 137.9h0M566.8 126.8h0M567.2 126.7h0M567.2 129.2h0M567.3 137.8h0M567.5 137.6h0M567.8 127.6h0M568.2 135.1h0M568.2 133.4h0M568.4 135.3h0M568.6 136.7h0M568.8 136.5h0M569.2 129.1h0M569.3 136.4h0M569.5 122.2h0M569.7 137.3h0M570.0 134.3h0M570.1 141.8h0M570.4 134.2h0M570.5 124.8h0M570.5 133.1h0M570.9 126.8h0M571.0 134.7h0M571.3 122.0h0M571.4 132.3h0M571.7 130.7h0M571.8 134.9h0M572.1 131.2h0M572.3 125.4h0M572.3 130.5h0M572.6 130.6h0M572.9 125.9h0M573.0 134.5h0M573.4 130.2h0M573.5 123.8h0M573.5 131.2h0M573.9 124.9h0M574.0 125.8h0M574.3 124.7h0M574.7 124.1h0M574.9 128.3h0M575.0 128.1h0M575.1 128.8h0M575.4 124.1h0M575.5 121.0h0M575.9 127.4h0M576.1 126.5h0M576.2 120.7h0M576.3 122.9h0M576.6 124.3h0M577.0 129.5h0M577.2 132.1h0M577.3 132.7h0M577.6 122.8h0M577.5 123.0h0M577.8 126.8h0M578.0 126.6h0M578.4 123.0h0M578.7 120.1h0M579.0 128.7h0M579.2 121.1h0M579.4 121.2h0M579.3 119.0h0M579.7 122.5h0M579.8 120.6h0M580.0 118.0h0M580.5 123.1h0M580.6 113.5h0M580.8 130.1h0M581.2 117.6h0M581.4 122.1h0M581.6 118.6h0M581.6 119.0h0M581.8 125.9h0M582.1 117.8h0M582.4 121.2h0M582.5 118.5h0M583.0 118.2h0M583.0 114.4h0M583.3 113.9h0M583.7 116.9h0M584.0 117.4h0M584.1 117.9h0M584.3 111.6h0M584.3 116.5h0M584.7 116.1h0M584.8 116.5h0M585.1 109.9h0M585.5 124.0h0M585.7 109.2h0M585.9 114.8h0M586.2 118.3h0M586.4 113.2h0M586.6 115.3h0M586.8 119.6h0M587.1 108.1h0M587.3 104.9h0M587.7 115.7h0M587.9 120.6h0M588.2 117.4h0M588.3 119.6h0M588.5 110.1h0M588.9 104.9h0M589.1 113.4h0M589.4 116.0h0M589.6 113.3h0M589.9 107.6h0M590.1 116.4h0M590.4 107.8h0M590.6 110.5h0M590.8 117.8h0M591.2 116.8h0M591.5 116.6h0M591.5 108.2h0M591.9 116.5h0M592.0 108.1h0M592.4 112.9h0M592.5 111.6h0M593.0 108.5h0M593.2 115.4h0M593.3 101.5h0M594.0 109.9h0M594.1 115.8h0M594.5 109.5h0M594.5 108.9h0M594.8 105.0h0M595.4 111.9h0M595.5 107.0h0M595.9 110.5h0M596.1 103.5h0M596.7 107.8h0M597.0 112.0h0M597.0 104.2h0M597.6 106.5h0M597.8 106.6h0M598.1 109.6h0M598.6 111.4h0M598.9 103.2h0M599.3 105.1h0M599.7 106.3h0M600.1 99.3h0M600.5 103.1h0M600.9 105.9h0M601.3 111.2h0M601.9 103.5h0M602.1 98.6h0M602.6 105.0h0M603.0 94.4h0M603.6 100.3h0M604.1 99.1h0M604.5 104.5h0M605.2 97.2h0M605.9 94.7h0M606.3 94.5h0M607.0 93.8h0M607.5 101.7h0M608.7 100.0h0M609.3 92.5h0M610.3 88.7h0M611.7 93.1h0M613.4 92.6h0M472.2 207.3h0M492.6 204.4h0M495.0 206.3h0M497.5 188.4h0M501.2 178.6h0M504.1 172.0h0M504.8 197.0h0M496.7 169.1h0M503.8 170.7h0M513.6 165.2h0M522.2 156.0h0M498.3 189.0h0M505.3 196.7h0M521.3 196.7h0M540.5 171.0h0M516.5 136.3h0M561.9 118.4h0M521.9 157.7h0M496.9 169.2h0M514.0 165.8h0M548.9 165.8h0M564.8 168.2h0M504.7 171.2h0M501.8 177.3h0M610.8 79.4h0M605.0 84.7h0M608.3 90.1h0M620.7 99.8h0M590.7 132.2h0M564.4 168.0h0M496.7 168.8h0M504.5 171.7h0M502.0 179.0h0M514.4 164.4h0M516.8 176.6h0M515.6 182.8h0M524.0 181.5h0M521.7 157.0h0M530.3 170.5h0M510.7 190.0h0M497.2 189.0h0M520.5 196.3h0M492.3 204.8h0M516.8 136.1h0M540.1 144.7h0M545.0 136.1h0M549.4 166.3h0" stroke="#ff0f14" stroke-width="5.0" stroke-linecap="round" fill="none"/><path d="M485.6 205.4h0M492.1 216.2h0M496.9 204.5h0M505.9 180.7h0M509.8 180.7h0M510.8 194.1h0M512.3 189.2h0M527.1 162.4h0M542.3 170.8h0M553.2 150.4h0M559.5 139.4h0M567.0 129.3h0M575.6 107.0h0M584.7 131.8h0M594.2 105.9h0M615.9 84.0h0M487.7 216.6h0M529.3 136.3h0M596.8 109.6h0" stroke="#0c76f8" stroke-width="5.0" stroke-linecap="round" fill="none"/><rect x="566.3" y="211.8" width="99.5" height="19.80000000000001" fill="#fff"/><rect x="519.9" y="231.60000000000002" width="145.89999999999998" height="39.69999999999999" fill="#fff"/><path d="M566.3 211.8H665.8V271.3H519.9V231.60000000000002H665.8M519.9 251.5H665.8M566.3 211.8V271.3M620.4 211.8V271.3" fill="none" stroke="#262626" stroke-width="1.3"/><text transform="translate(593.3 225.8) scale(1 1.04)" text-anchor="middle" font-size="10.9" font-style="italic" fill="#2085f8">Training</text><text transform="translate(643.1 225.8) scale(1 1.04)" text-anchor="middle" font-size="10.9" font-style="italic" fill="#f5222d">Test</text><text transform="translate(543.1 245.6) scale(1 1.04)" text-anchor="middle" font-size="10.9" font-style="italic">R<tspan font-size="7.3" dy="-3.3">2</tspan></text><text transform="translate(543.1 265.5) scale(1 1.04)" text-anchor="middle" font-size="10.9" font-style="italic">AOME</text><text transform="translate(593.3 245.6) scale(1 1.04)" text-anchor="middle" font-size="10.9" font-style="italic">0.94</text><text transform="translate(643.1 245.6) scale(1 1.04)" text-anchor="middle" font-size="10.9" font-style="italic">0.93</text><text transform="translate(593.3 265.5) scale(1 1.04)" text-anchor="middle" font-size="10.9" font-style="italic">0.09</text><text transform="translate(643.1 265.5) scale(1 1.04)" text-anchor="middle" font-size="10.9" font-style="italic">0.13</text><rect x="423.5" y="25.5" width="252.00" height="251.90" fill="none" stroke="#262626" stroke-width="1.2"/><path d="M423.50 277.4v4.0M423.5 277.40h-4.0M459.50 277.4v4.0M459.50 25.5v4.0M423.5 241.41h-4.0M675.5 241.41h-4.0M495.50 277.4v4.0M495.50 25.5v4.0M423.5 205.43h-4.0M675.5 205.43h-4.0M531.50 277.4v4.0M531.50 25.5v4.0M423.5 169.44h-4.0M675.5 169.44h-4.0M567.50 277.4v4.0M567.50 25.5v4.0M423.5 133.46h-4.0M675.5 133.46h-4.0M603.50 277.4v4.0M603.50 25.5v4.0M423.5 97.47h-4.0M675.5 97.47h-4.0M639.50 277.4v4.0M639.50 25.5v4.0M423.5 61.49h-4.0M675.5 61.49h-4.0M675.50 277.4v4.0M423.5 25.50h-4.0" stroke="#262626" stroke-width="1.2" fill="none"/><text transform="translate(423.50 296.20) scale(1 1.06)" text-anchor="middle" font-size="12.3">10<tspan font-size="8.6" dy="-5">-4</tspan></text><text transform="translate(416.50 281.90) scale(1 1.06)" text-anchor="end" font-size="12.3">10<tspan font-size="8.6" dy="-5">-4</tspan></text><text transform="translate(459.50 296.20) scale(1 1.06)" text-anchor="middle" font-size="12.3">10<tspan font-size="8.6" dy="-5">-3</tspan></text><text transform="translate(416.50 245.91) scale(1 1.06)" text-anchor="end" font-size="12.3">10<tspan font-size="8.6" dy="-5">-3</tspan></text><text transform="translate(495.50 296.20) scale(1 1.06)" text-anchor="middle" font-size="12.3">10<tspan font-size="8.6" dy="-5">-2</tspan></text><text transform="translate(416.50 209.93) scale(1 1.06)" text-anchor="end" font-size="12.3">10<tspan font-size="8.6" dy="-5">-2</tspan></text><text transform="translate(531.50 296.20) scale(1 1.06)" text-anchor="middle" font-size="12.3">10<tspan font-size="8.6" dy="-5">-1</tspan></text><text transform="translate(416.50 173.94) scale(1 1.06)" text-anchor="end" font-size="12.3">10<tspan font-size="8.6" dy="-5">-1</tspan></text><text transform="translate(567.50 296.20) scale(1 1.06)" text-anchor="middle" font-size="12.3">10<tspan font-size="8.6" dy="-5">0</tspan></text><text transform="translate(416.50 137.96) scale(1 1.06)" text-anchor="end" font-size="12.3">10<tspan font-size="8.6" dy="-5">0</tspan></text><text transform="translate(603.50 296.20) scale(1 1.06)" text-anchor="middle" font-size="12.3">10<tspan font-size="8.6" dy="-5">1</tspan></text><text transform="translate(416.50 101.97) scale(1 1.06)" text-anchor="end" font-size="12.3">10<tspan font-size="8.6" dy="-5">1</tspan></text><text transform="translate(639.50 296.20) scale(1 1.06)" text-anchor="middle" font-size="12.3">10<tspan font-size="8.6" dy="-5">2</tspan></text><text transform="translate(416.50 65.99) scale(1 1.06)" text-anchor="end" font-size="12.3">10<tspan font-size="8.6" dy="-5">2</tspan></text><text transform="translate(675.50 296.20) scale(1 1.06)" text-anchor="middle" font-size="12.3">10<tspan font-size="8.6" dy="-5">3</tspan></text><text transform="translate(416.50 30.00) scale(1 1.06)" text-anchor="end" font-size="12.3">10<tspan font-size="8.6" dy="-5">3</tspan></text><text x="0.2" y="21.8" font-size="26.5" font-weight="bold" fill="#000">a</text><text x="358.3" y="21.8" font-size="26.5" font-weight="bold" fill="#000">b</text><text transform="translate(188 320.3) scale(1 1.045)" text-anchor="middle" font-size="15.4">Diffusivity (cm<tspan font-size="10" dy="-6">2</tspan><tspan dy="6"> s</tspan><tspan font-size="10" dy="-6">-1</tspan><tspan dy="6">), measured</tspan></text><text transform="translate(18.3 151) rotate(-90)" text-anchor="middle" font-size="15.25">Diffusivity (cm<tspan font-size="10" dy="-6">2</tspan><tspan dy="6"> s</tspan><tspan font-size="10" dy="-6">-1</tspan><tspan dy="6">), predicted</tspan></text><text transform="translate(549.3 320.6) scale(1 1.045)" text-anchor="middle" font-size="15.4">Sorption (mmol g<tspan font-size="10" dy="-6">-1</tspan><tspan dy="6">), measured</tspan></text><text transform="translate(380 152) rotate(-90)" text-anchor="middle" font-size="15.25">Sorption (mmol g<tspan font-size="10" dy="-6">-1</tspan><tspan dy="6">), Predicted</tspan></text></svg>
</body></html>
